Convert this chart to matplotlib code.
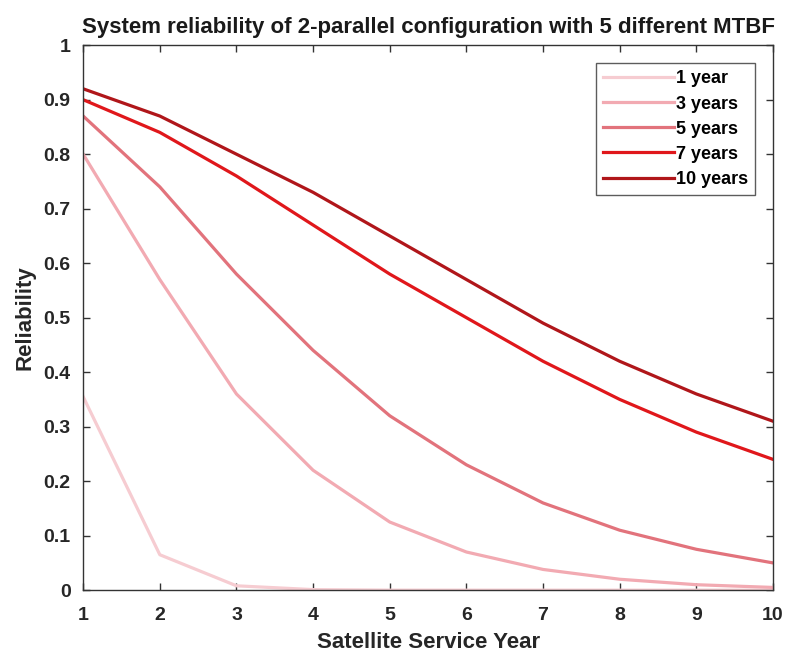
import matplotlib
matplotlib.use("Agg")
import matplotlib.pyplot as plt

plt.rcParams["font.family"] = ["Liberation Sans", "DejaVu Sans"]

years = [1, 2, 3, 4, 5, 6, 7, 8, 9, 10]

# reliability per MTBF
r_1y = [0.355, 0.065, 0.008, 0.001, 0.0, 0.0, 0.0, 0.0, 0.0, 0.0]
r_3y = [0.80, 0.57, 0.36, 0.22, 0.125, 0.07, 0.038, 0.02, 0.01, 0.005]
r_5y = [0.87, 0.74, 0.58, 0.44, 0.32, 0.23, 0.16, 0.11, 0.075, 0.05]
r_7y = [0.90, 0.84, 0.76, 0.67, 0.58, 0.50, 0.42, 0.35, 0.29, 0.24]
r_10y = [0.92, 0.87, 0.80, 0.73, 0.65, 0.57, 0.49, 0.42, 0.36, 0.31]

labels = ["1 year", "3 years", "5 years", "7 years", "10 years"]
colors = ["#f6ccd1", "#f2aab2", "#e2737c", "#e0171b", "#b0161a"]

fig = plt.figure(figsize=(7.92, 6.55), dpi=100)
ax = fig.add_axes([0.105, 0.099, 0.871, 0.832])

for ys, lab, c in zip([r_1y, r_3y, r_5y, r_7y, r_10y], labels, colors):
    ax.plot(years, ys, color=c, linewidth=2.3, label=lab)

ax.set_xlim(1, 10)
ax.set_ylim(0, 1)
ax.set_xticks(years)
ax.set_yticks([0, 0.1, 0.2, 0.3, 0.4, 0.5, 0.6, 0.7, 0.8, 0.9, 1])
ax.set_yticklabels(["0", "0.1", "0.2", "0.3", "0.4", "0.5", "0.6", "0.7", "0.8", "0.9", "1"])
ax.tick_params(direction="in", top=True, right=True, length=5, width=1,
               labelsize=14, color="#333333", labelcolor="#262626")
ax.tick_params(axis="x", pad=12)
ax.tick_params(axis="y", pad=9)
for lbl in ax.get_xticklabels() + ax.get_yticklabels():
    lbl.set_fontweight("bold")
for sp in ax.spines.values():
    sp.set_color("#333333")
    sp.set_linewidth(1.0)

ax.set_xlabel("Satellite Service Year", fontsize=16, fontweight="bold", color="#262626", labelpad=6)
ax.set_ylabel("Reliability", fontsize=16, fontweight="bold", color="#262626", labelpad=6)
ax.set_title("System reliability of 2-parallel configuration with 5 different MTBF",
             fontsize=16, fontweight="bold", color="#1a1a1a", pad=9)

leg = ax.legend(loc="upper right", bbox_to_anchor=(0.974, 0.967), borderaxespad=0,
                fancybox=False, edgecolor="#333333", handlelength=3.9, handletextpad=0.1,
                labelspacing=0.45, borderpad=0.4, prop={"weight": "bold", "size": 13})
leg.get_frame().set_linewidth(1.0)

fig.savefig("out.png", dpi=100, facecolor="white")
